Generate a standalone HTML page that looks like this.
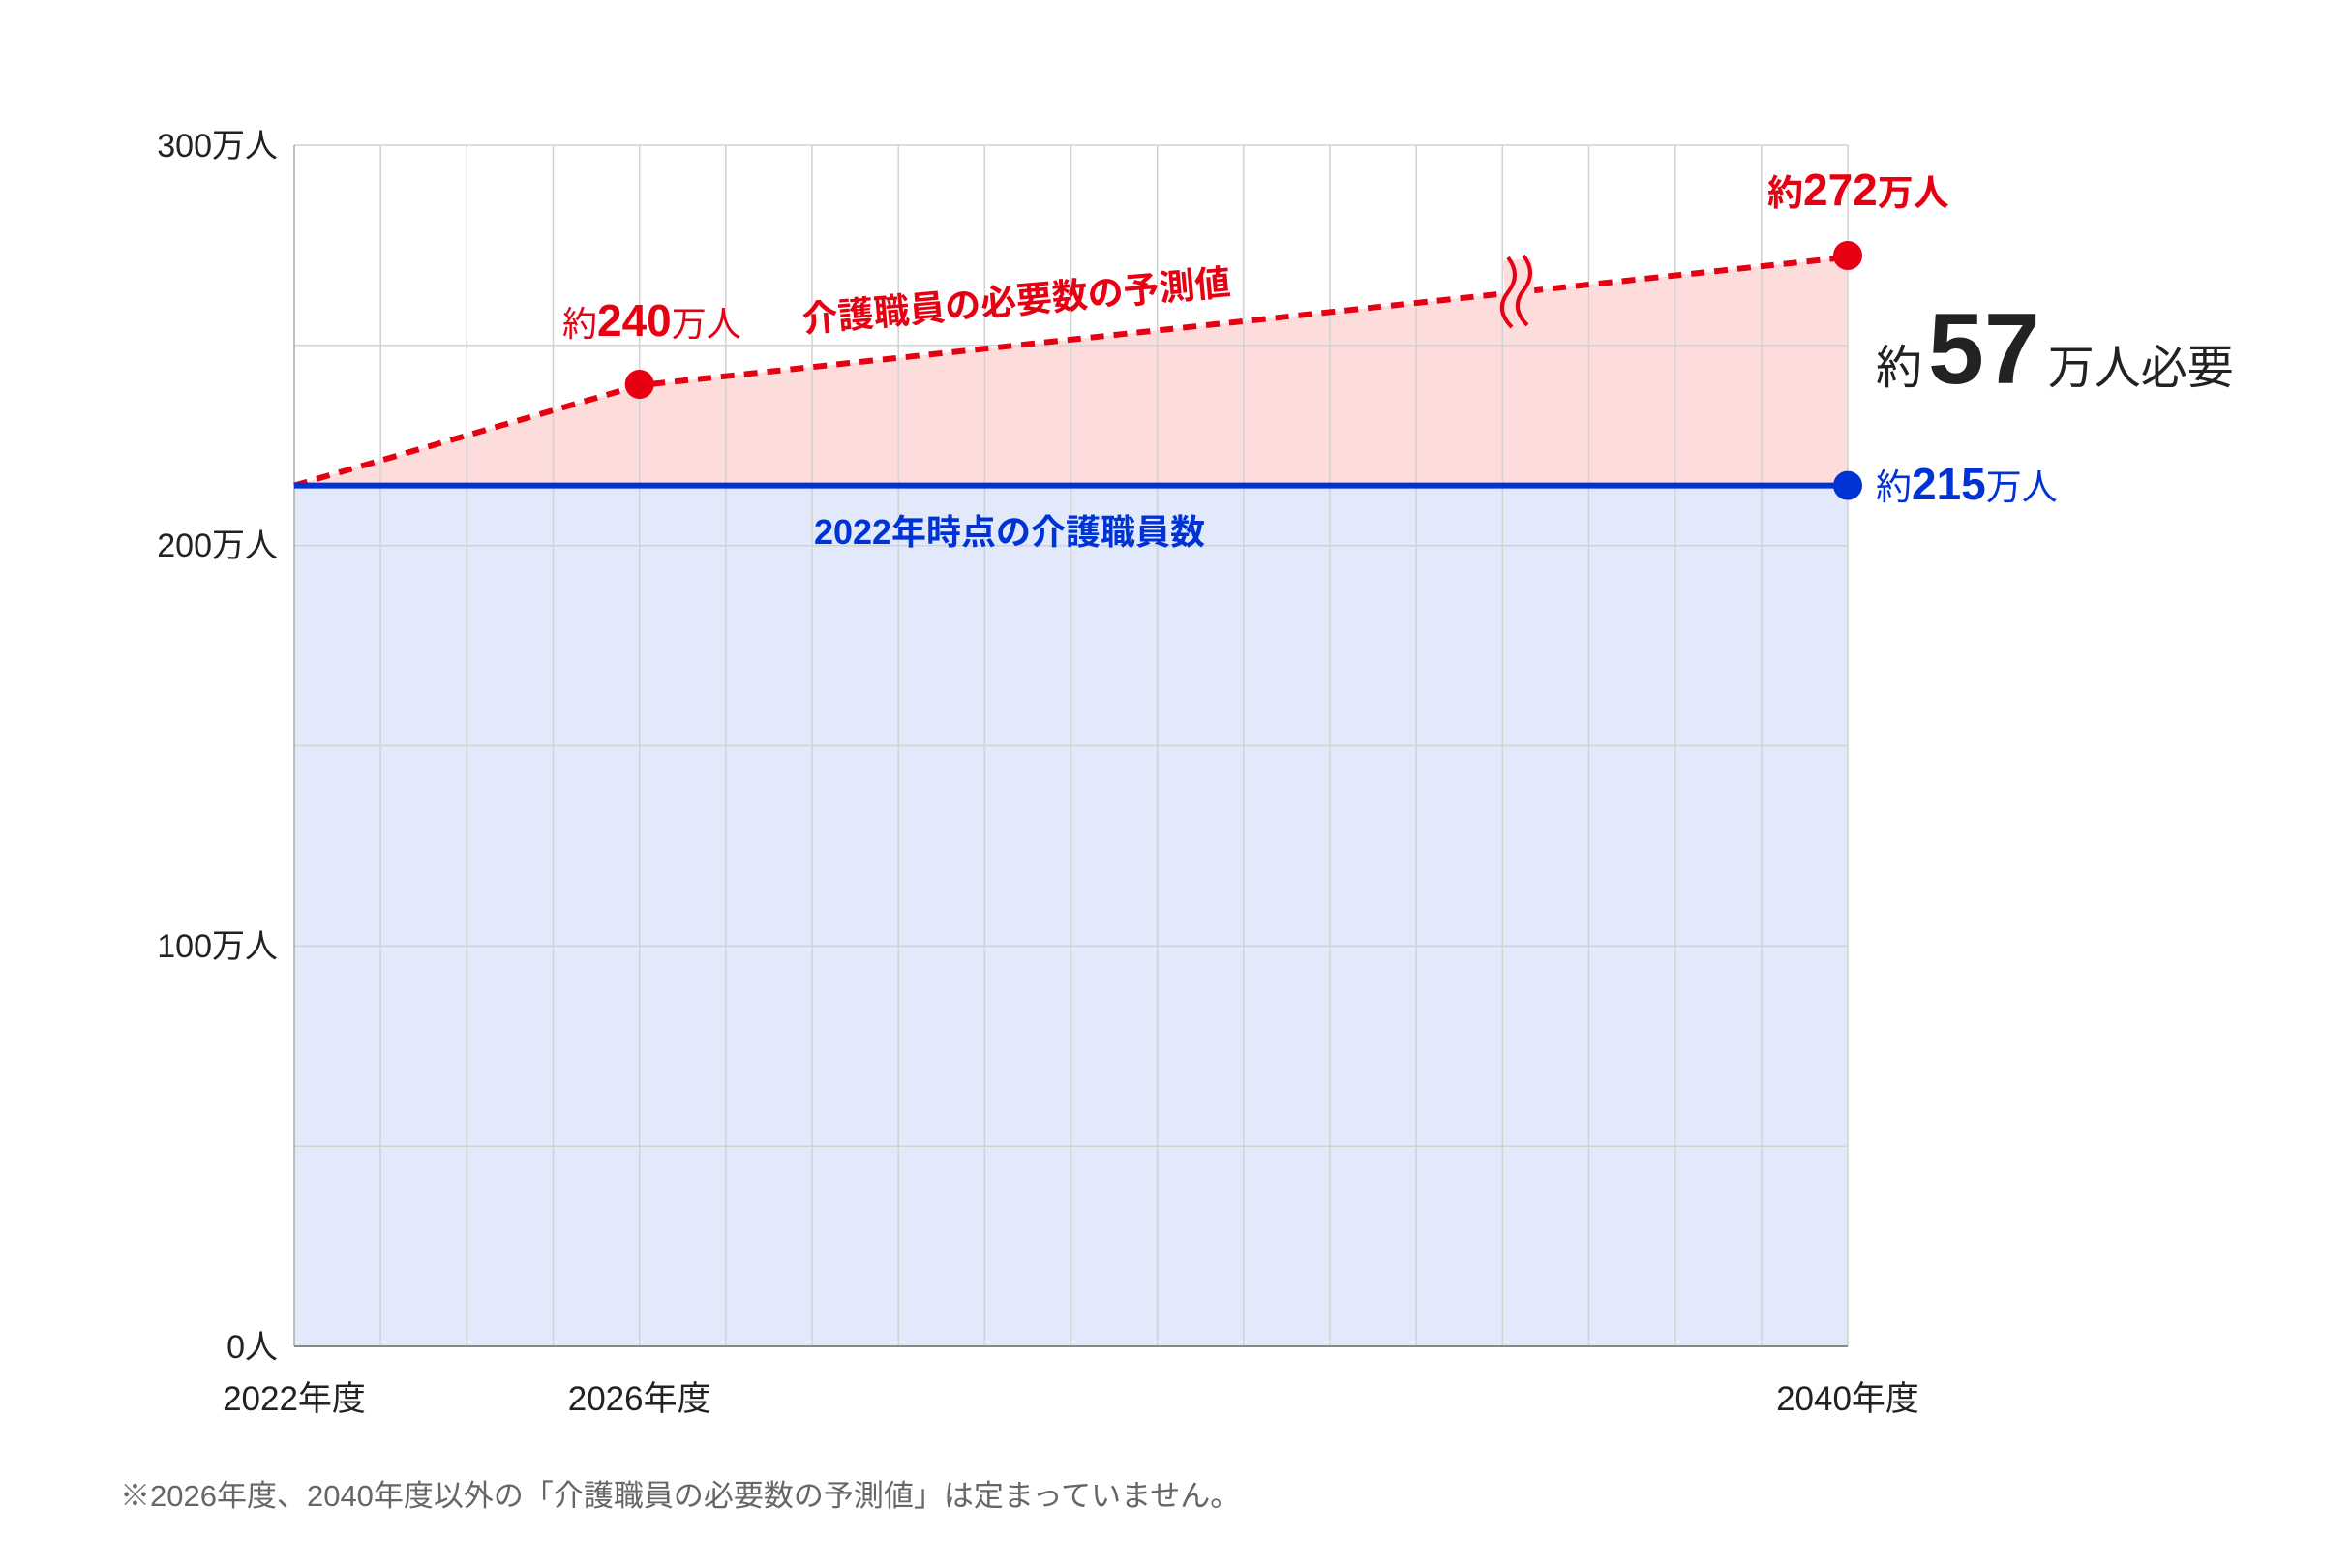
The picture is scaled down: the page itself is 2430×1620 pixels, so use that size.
<!DOCTYPE html>
<html><head><meta charset="utf-8">
<style>
html,body{margin:0;padding:0;background:#fff;}
svg{display:block;}
text{font-family:"Liberation Sans","Noto Sans CJK JP",sans-serif;}
</style></head>
<body>
<svg width="2430" height="1620" viewBox="0 0 2430 1620" xmlns="http://www.w3.org/2000/svg">
<rect width="2430" height="1620" fill="#fff"/>
<rect x="304" y="501.6" width="1605" height="889.4" fill="#e1e9fb"/>
<polygon points="304,501.6 660.7,398.1 1909,265.7 1909,501.6" fill="#fddcdc"/>
<g stroke="#d2d2d2" stroke-width="1.5">
<line x1="393.2" y1="150" x2="393.2" y2="1391"/><line x1="482.3" y1="150" x2="482.3" y2="1391"/>
<line x1="571.5" y1="150" x2="571.5" y2="1391"/><line x1="660.7" y1="150" x2="660.7" y2="1391"/>
<line x1="749.8" y1="150" x2="749.8" y2="1391"/><line x1="839" y1="150" x2="839" y2="1391"/>
<line x1="928.2" y1="150" x2="928.2" y2="1391"/><line x1="1017.3" y1="150" x2="1017.3" y2="1391"/>
<line x1="1106.5" y1="150" x2="1106.5" y2="1391"/><line x1="1195.7" y1="150" x2="1195.7" y2="1391"/>
<line x1="1284.8" y1="150" x2="1284.8" y2="1391"/><line x1="1374" y1="150" x2="1374" y2="1391"/>
<line x1="1463.2" y1="150" x2="1463.2" y2="1391"/><line x1="1552.3" y1="150" x2="1552.3" y2="1391"/>
<line x1="1641.5" y1="150" x2="1641.5" y2="1391"/><line x1="1730.7" y1="150" x2="1730.7" y2="1391"/>
<line x1="1819.8" y1="150" x2="1819.8" y2="1391"/><line x1="1909" y1="150" x2="1909" y2="1391"/>
<line x1="304" y1="150" x2="1909" y2="150"/><line x1="304" y1="356.8" x2="1909" y2="356.8"/>
<line x1="304" y1="563.7" x2="1909" y2="563.7"/><line x1="304" y1="770.5" x2="1909" y2="770.5"/>
<line x1="304" y1="977.3" x2="1909" y2="977.3"/><line x1="304" y1="1184.2" x2="1909" y2="1184.2"/>
</g>
<line x1="304" y1="150" x2="304" y2="1391" stroke="#aaa" stroke-width="1.5"/>
<line x1="304" y1="1391" x2="1909" y2="1391" stroke="#888" stroke-width="2"/>
<polyline points="304,501.6 660.7,398.1 1909,265.7" fill="none" stroke="#e60012" stroke-width="6" stroke-dasharray="14,10"/>
<rect x="1555" y="268" width="30" height="60" fill="#fddcdc" transform="rotate(-5 1570 298)"/>
<path d="M1558,266 q14,18 0,36 q-14,18 4,36" fill="none" stroke="#e60012" stroke-width="4"/>
<path d="M1574,264 q14,18 0,36 q-14,18 4,36" fill="none" stroke="#e60012" stroke-width="4"/>
<line x1="304" y1="501.6" x2="1909" y2="501.6" stroke="#0033d6" stroke-width="6"/>
<circle cx="660.7" cy="397" r="15" fill="#e60012"/>
<circle cx="1909" cy="264" r="15" fill="#e60012"/>
<circle cx="1909" cy="501.6" r="15" fill="#0033d6"/>
<g font-size="34" fill="#222" text-anchor="end">
<text x="287" y="162">300万人</text>
<text x="287" y="575">200万人</text>
<text x="287" y="989">100万人</text>
<text x="287" y="1403">0人</text>
</g>
<g font-size="35" fill="#222" text-anchor="middle">
<text x="304" y="1457">2022年度</text>
<text x="660.7" y="1457">2026年度</text>
<text x="1909" y="1457">2040年度</text>
</g>
<text x="581" y="347" fill="#e60012" font-size="36">約<tspan font-size="46" font-weight="bold">240</tspan>万人</text>
<text x="830" y="343" fill="#e60012" font-size="37" font-weight="bold" transform="rotate(-5 830 343)">介護職員の必要数の予測値</text>
<text x="1826" y="212" fill="#e60012" font-size="37" font-weight="bold">約<tspan font-size="46">272</tspan>万人</text>
<text x="1938" y="396" fill="#222" font-size="48">約<tspan font-size="104" font-weight="bold" dx="6">57</tspan><tspan dx="8">万人必要</tspan></text>
<text x="1938" y="516" fill="#0033d6" font-size="37">約<tspan font-size="46" font-weight="bold">215</tspan>万人</text>
<text x="1043" y="562" fill="#0033d6" font-size="36" font-weight="bold" text-anchor="middle">2022年時点の介護職員数</text>
<text x="124" y="1556" fill="#666" font-size="31">※2026年度、2040年度以外の「介護職員の必要数の予測値」は定まっていません。</text>
</svg>
</body></html>
